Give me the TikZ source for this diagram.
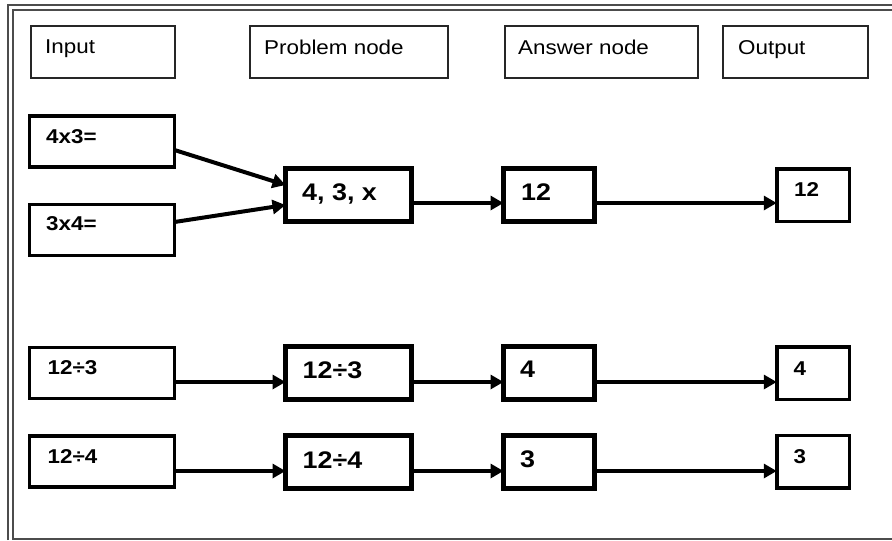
\documentclass[tikz,border=0pt]{standalone}
\usepackage{fontspec}
\setmainfont{Liberation Sans}
\newfontfamily\wide[FakeStretch=1.12]{Liberation Sans}
\usetikzlibrary{arrows.meta}
\tikzset{
  frameline/.style={draw=black!70, line width=1.2pt},
  headbox/.style={draw=black!85, line width=2pt, inner sep=0pt, outer sep=0pt},
  inbox/.style={draw=black, line width=3.5pt, inner sep=0pt, outer sep=0pt, minimum width=145pt, minimum height=51pt},
  probbox/.style={draw=black, line width=5pt, inner sep=0pt, outer sep=0pt, minimum width=126pt, minimum height=53pt},
  ansbox/.style={draw=black, line width=5pt, inner sep=0pt, outer sep=0pt, minimum width=91pt, minimum height=53pt},
  outbox/.style={draw=black, line width=3.5pt, inner sep=0pt, outer sep=0pt, minimum width=72.5pt, minimum height=52.5pt},
  headtxt/.style={anchor=base west, inner sep=0pt, font=\wide\fontsize{20}{22}\selectfont},
  smalltxt/.style={anchor=base west, inner sep=0pt, font=\wide\bfseries\fontsize{20}{22}\selectfont},
  bigtxt/.style={anchor=base west, inner sep=0pt, font=\wide\bfseries\fontsize{24}{26}\selectfont},
  arr/.style={draw=black, line width=4pt, -{Triangle[length=13pt,width=14pt]}}
}
\begin{document}
\begin{tikzpicture}[x=1pt,y=-1pt]
\useasboundingbox (0,0) rectangle (892,541);
% double frame on the left and top, single line at the bottom
\draw[frameline] (8,540) -- (8,5) -- (892,5);
\draw[frameline] (892,539) -- (13,539) -- (13,10) -- (892,10);

% column headings
\node[headbox, minimum width=144pt, minimum height=52pt] (hIn) at (103,52) {};
\node[headbox, minimum width=198pt, minimum height=52pt] (hProb) at (349,52) {};
\node[headbox, minimum width=193pt, minimum height=52pt] (hAns) at (601.5,52) {};
\node[headbox, minimum width=145pt, minimum height=52pt] (hOut) at (795.5,52) {};
\node[headtxt] (tIn) at (45,53.5) {Input};
\node[headtxt] (tProb) at (264,54) {Problem node};
\node[headtxt] (tAns) at (518,54) {Answer node};
\node[headtxt] (tOut) at (738,54) {Output};

% first row: two inputs sharing one problem node
\node[inbox] (a1) at (102,141.5) {};
\node[inbox] (a2) at (102,230) {};
\node[probbox] (p1) at (348.5,194.5) {};
\node[ansbox] (r1) at (549,194.5) {};
\node[outbox] (o1) at (813,195) {};
\node[smalltxt] at (46,143) {4x3=};
\node[smalltxt] at (46,230) {3x4=};
\node[bigtxt] at (302,200) {4, 3, x};
\node[bigtxt] at (521,200) {12};
\node[smalltxt] at (794,196.5) {12};

% second row
\node[inbox] (a3) at (102,373) {};
\node[probbox] (p2) at (348.5,373) {};
\node[ansbox] (r2) at (549,373) {};
\node[outbox] (o2) at (813,373) {};
\node[smalltxt] at (47.5,374) {12÷3};
\node[bigtxt] at (302.5,378) {12÷3};
\node[bigtxt] at (520,377.5) {4};
\node[smalltxt] at (793.5,375) {4};

% third row
\node[inbox] (a4) at (102,461.5) {};
\node[probbox] (p3) at (348.5,462) {};
\node[ansbox] (r3) at (549,462) {};
\node[outbox] (o3) at (813,461.5) {};
\node[smalltxt] at (47.5,463) {12÷4};
\node[bigtxt] at (302.5,468) {12÷4};
\node[bigtxt] at (520,467.5) {3};
\node[smalltxt] at (793.5,463.5) {3};

% connectors
\draw[arr] ([yshift=-8.5pt]a1.east) -- ([yshift=9.5pt]p1.west);
\draw[arr] ([yshift=8pt]a2.east) -- ([yshift=-10.5pt]p1.west);
\draw[arr] ([yshift=-8.5pt]p1.east) -- ([yshift=-8.5pt]r1.west);
\draw[arr] ([yshift=-8.5pt]r1.east) -- ([yshift=-8pt]o1.west);
\draw[arr] ([yshift=-9pt]a3.east) -- ([yshift=-9pt]p2.west);
\draw[arr] ([yshift=-9pt]p2.east) -- ([yshift=-9pt]r2.west);
\draw[arr] ([yshift=-9pt]r2.east) -- ([yshift=-9pt]o2.west);
\draw[arr] ([yshift=-9.5pt]a4.east) -- ([yshift=-9pt]p3.west);
\draw[arr] ([yshift=-9pt]p3.east) -- ([yshift=-9pt]r3.west);
\draw[arr] ([yshift=-9pt]r3.east) -- ([yshift=-9.5pt]o3.west);
\end{tikzpicture}
\end{document}
